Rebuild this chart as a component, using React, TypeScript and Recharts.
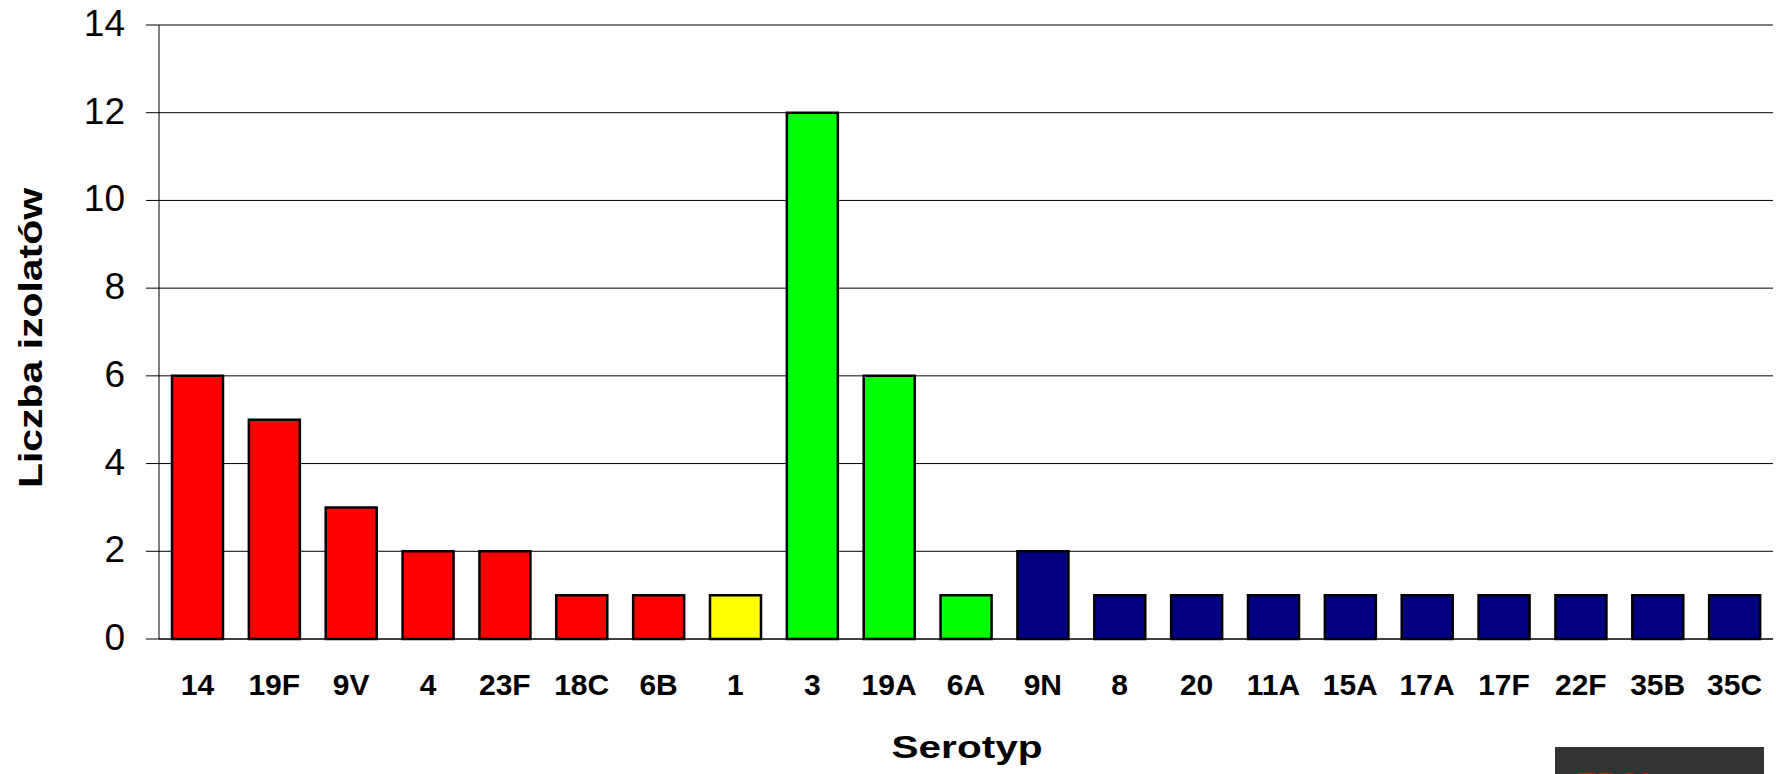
import { BarChart, Bar, XAxis, YAxis, CartesianGrid, Cell, Label } from 'recharts';

const serotypes = ['14', '19F', '9V', '4', '23F', '18C', '6B', '1', '3', '19A', '6A', '9N', '8', '20', '11A', '15A', '17A', '17F', '22F', '35B', '35C'];
const isolates = [6, 5, 3, 2, 2, 1, 1, 1, 12, 6, 1, 2, 1, 1, 1, 1, 1, 1, 1, 1, 1];
const barColors = [
  '#ff0000', '#ff0000', '#ff0000', '#ff0000', '#ff0000', '#ff0000', '#ff0000',
  '#ffff00',
  '#00ff00', '#00ff00', '#00ff00',
  '#000080', '#000080', '#000080', '#000080', '#000080', '#000080', '#000080', '#000080', '#000080', '#000080',
];
const yTicks = [0, 2, 4, 6, 8, 10, 12, 14];

const data = serotypes.map((name, i) => ({ name, value: isolates[i] }));

const FONT = '"Liberation Sans", Arial, Helvetica, sans-serif';

function YTick({ x, y, payload }: any) {
  return (
    <text x={x} y={y + 11} textAnchor="end" fontFamily={FONT} fontSize={37} fill="#000">
      {payload.value}
    </text>
  );
}

function XTick({ x, y, payload }: any) {
  return (
    <text x={x} y={y + 56} textAnchor="middle" fontFamily={FONT} fontSize={30} fontWeight="bold" fill="#000">
      {payload.value}
    </text>
  );
}

function YTitle({ viewBox }: any) {
  const cx = viewBox.x + 42;
  const cy = viewBox.y + viewBox.height / 2 + 6;
  return (
    <text x={cx} y={cy} transform={`rotate(-90, ${cx}, ${cy})`} textAnchor="middle"
      fontFamily={FONT} fontSize={33} fontWeight="bold" fill="#000"
      textLength={300} lengthAdjust="spacingAndGlyphs">
      Liczba izolatów
    </text>
  );
}

function XTitle({ viewBox }: any) {
  const cx = viewBox.x + viewBox.width / 2 + 1;
  const cy = viewBox.y + 119;
  return (
    <text x={cx} y={cy} textAnchor="middle" fontFamily={FONT} fontSize={32} fontWeight="bold" fill="#000"
      textLength={151} lengthAdjust="spacingAndGlyphs">
      Serotyp
    </text>
  );
}

export default function App() {
  return (
    <div style={{ position: 'absolute', left: 0, top: 0, width: 1776, height: 774, overflow: 'hidden', background: '#fff' }}>
      <BarChart width={1776} height={774} data={data} margin={{ top: 25, right: 3, left: 0, bottom: 0 }} barSize={51}>
        <CartesianGrid vertical={false} stroke="#000" strokeWidth={1} />
        <XAxis dataKey="name" height={135} tickLine={false} axisLine={{ stroke: '#000' }}
          tickSize={0} tickMargin={0} interval={0} tick={<XTick />}>
          <Label content={<XTitle />} />
        </XAxis>
        <YAxis width={159} domain={[0, 14]} ticks={yTicks} interval={0} tickSize={13} tickMargin={21}
          tickLine={{ stroke: '#000' }} axisLine={{ stroke: '#000' }} tick={<YTick />}>
          <Label content={<YTitle />} />
        </YAxis>
        <Bar dataKey="value" stroke="#000" strokeWidth={2.5} isAnimationActive={false}>
          {data.map((d, i) => (
            <Cell key={d.name} fill={barColors[i]} />
          ))}
        </Bar>
      </BarChart>
      <div style={{
        position: 'absolute', left: 1555, top: 747, width: 209, height: 40, background: '#333',
        color: '#ff0000', fontFamily: FONT, fontWeight: 'bold', fontSize: 30, lineHeight: '30px',
        paddingTop: 21, paddingLeft: 21, boxSizing: 'border-box', overflow: 'hidden',
      }}>
        EBOI
      </div>
    </div>
  );
}
